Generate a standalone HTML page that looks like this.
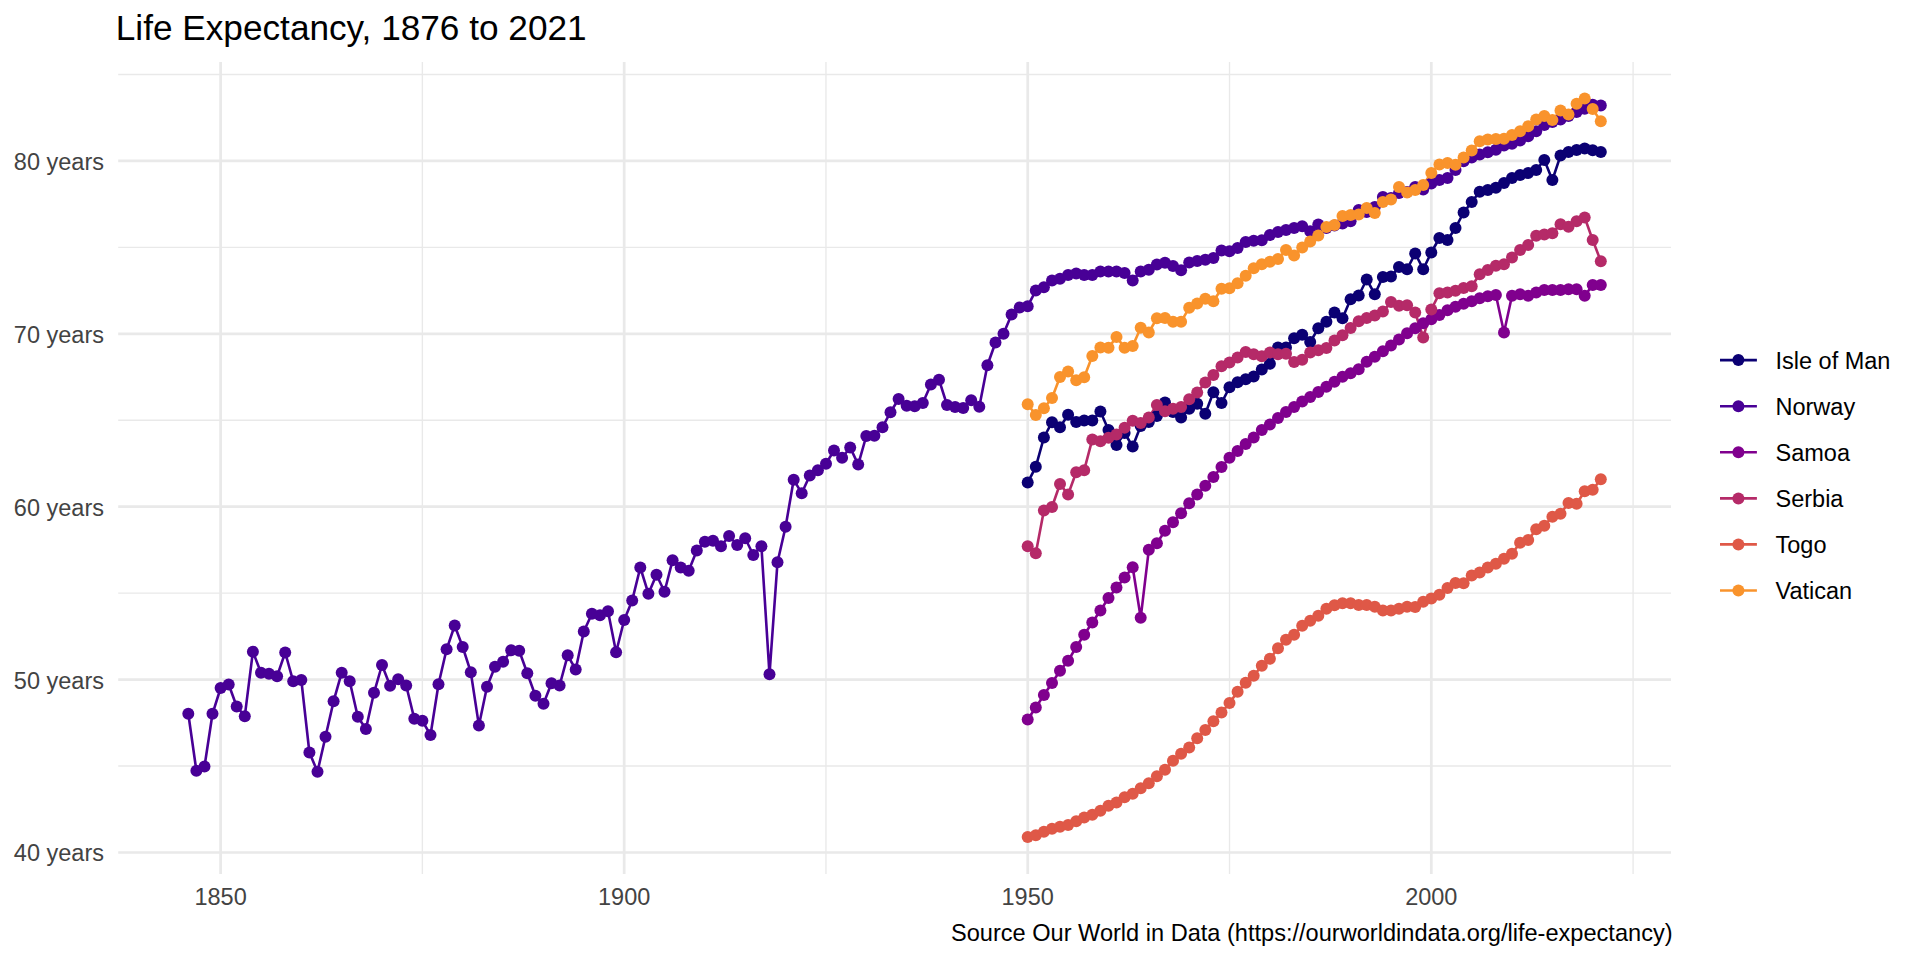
<!DOCTYPE html>
<html lang="en"><head><meta charset="utf-8"><title>Life Expectancy, 1876 to 2021</title>
<style>html,body{margin:0;padding:0;background:#fff}body{width:1920px;height:960px;overflow:hidden}svg{display:block}text{font-family:"Liberation Sans",Arial,Helvetica,sans-serif}.ax{font-size:23.5px;fill:#434343}.lg{font-size:23.5px;fill:#000}.ti{font-size:35.2px;fill:#000}.ca{font-size:23.58px;fill:#000}</style></head><body>
<svg width="1920" height="960" viewBox="0 0 1920 960">
<rect width="1920" height="960" fill="#fff"/>
<g stroke="#e9e9e9" fill="none">
<g stroke-width="1.36">
<line x1="118.2" x2="1671" y1="766.05" y2="766.05"/>
<line x1="118.2" x2="1671" y1="593.15" y2="593.15"/>
<line x1="118.2" x2="1671" y1="420.25" y2="420.25"/>
<line x1="118.2" x2="1671" y1="247.35" y2="247.35"/>
<line x1="118.2" x2="1671" y1="74.45" y2="74.45"/>
<line x1="422.38" x2="422.38" y1="62.1" y2="874"/>
<line x1="825.96" x2="825.96" y1="62.1" y2="874"/>
<line x1="1229.53" x2="1229.53" y1="62.1" y2="874"/>
<line x1="1633.10" x2="1633.10" y1="62.1" y2="874"/>
</g><g stroke-width="2.72">
<line x1="118.2" x2="1671" y1="852.50" y2="852.50"/>
<line x1="118.2" x2="1671" y1="679.60" y2="679.60"/>
<line x1="118.2" x2="1671" y1="506.70" y2="506.70"/>
<line x1="118.2" x2="1671" y1="333.80" y2="333.80"/>
<line x1="118.2" x2="1671" y1="160.90" y2="160.90"/>
<line x1="220.60" x2="220.60" y1="62.1" y2="874"/>
<line x1="624.17" x2="624.17" y1="62.1" y2="874"/>
<line x1="1027.74" x2="1027.74" y1="62.1" y2="874"/>
<line x1="1431.31" x2="1431.31" y1="62.1" y2="874"/>
</g></g>
<g fill="none" stroke-width="2.6" stroke-linejoin="round" stroke-linecap="butt">
<polyline stroke="#0B0073" points="1027.7,482.6 1035.8,466.8 1043.9,437.5 1052.0,422.2 1060.0,427.2 1068.1,414.7 1076.2,422.0 1084.2,420.5 1092.3,420.4 1100.4,411.5 1108.5,430.0 1116.5,444.9 1124.6,433.0 1132.7,446.5 1140.7,426.0 1148.8,422.0 1156.9,416.0 1165.0,402.5 1173.0,412.0 1181.1,417.5 1189.2,408.8 1197.2,403.8 1205.3,413.8 1213.4,392.3 1221.5,403.0 1229.5,387.3 1237.6,382.2 1245.7,379.3 1253.7,376.6 1261.8,369.6 1269.9,363.8 1278.0,347.5 1286.0,347.5 1294.1,338.3 1302.2,334.7 1310.2,342.0 1318.3,328.3 1326.4,321.7 1334.5,312.5 1342.5,318.3 1350.6,299.2 1358.7,295.5 1366.7,279.5 1374.8,294.2 1382.9,276.9 1391.0,276.6 1399.0,267.1 1407.1,269.2 1415.2,253.5 1423.2,269.2 1431.3,252.5 1439.4,238.0 1447.5,240.0 1455.5,228.0 1463.6,212.5 1471.7,202.0 1479.7,191.8 1487.8,189.9 1495.9,187.8 1504.0,183.1 1512.0,178.1 1520.1,175.0 1528.2,173.1 1536.2,170.0 1544.3,160.0 1552.4,180.0 1560.5,155.6 1568.5,151.9 1576.6,150.0 1584.7,148.5 1592.7,150.2 1600.8,152.1"/>
<polyline stroke="#480096" points="188.3,713.8 196.4,770.8 204.5,766.5 212.5,713.8 220.6,688.0 228.7,684.5 236.7,706.5 244.8,716.2 252.9,651.7 261.0,672.7 269.0,673.7 277.1,676.2 285.2,652.5 293.2,681.3 301.3,680.0 309.4,752.5 317.5,771.7 325.5,736.7 333.6,701.2 341.7,672.7 349.7,681.3 357.8,716.8 365.9,729.0 374.0,692.8 382.0,665.0 390.1,685.7 398.2,679.2 406.2,685.5 414.3,718.7 422.4,720.8 430.5,735.0 438.5,684.2 446.6,649.3 454.7,625.5 462.7,647.0 470.8,672.2 478.9,725.4 487.0,686.7 495.0,666.7 503.1,661.7 511.2,650.3 519.2,650.8 527.3,673.3 535.4,695.8 543.5,703.7 551.5,683.3 559.6,685.5 567.7,655.3 575.7,669.5 583.8,631.5 591.9,613.8 600.0,615.3 608.0,611.3 616.1,652.3 624.2,620.0 632.2,600.4 640.3,567.5 648.4,593.7 656.5,574.7 664.5,591.7 672.6,560.3 680.7,567.5 688.7,570.8 696.8,550.5 704.9,541.7 713.0,540.8 721.0,546.2 729.1,536.0 737.2,545.0 745.2,538.3 753.3,555.0 761.4,546.2 769.5,674.3 777.5,562.2 785.6,526.7 793.7,479.7 801.7,493.3 809.8,475.5 817.9,470.3 826.0,463.7 834.0,450.5 842.1,457.8 850.2,447.5 858.2,464.6 866.3,436.0 874.4,435.7 882.5,427.2 890.5,412.2 898.6,399.0 906.7,405.8 914.7,406.3 922.8,403.0 930.9,384.5 939.0,379.7 947.0,405.0 955.1,407.0 963.2,408.0 971.2,400.3 979.3,406.7 987.4,365.2 995.5,342.5 1003.5,333.8 1011.6,314.4 1019.7,307.5 1027.7,306.2 1035.8,290.6 1043.9,287.2 1052.0,280.4 1060.0,278.8 1068.1,275.0 1076.2,273.5 1084.2,275.0 1092.3,275.0 1100.4,271.6 1108.5,271.6 1116.5,271.6 1124.6,273.0 1132.7,280.4 1140.7,271.4 1148.8,269.8 1156.9,264.5 1165.0,262.7 1173.0,266.0 1181.1,270.2 1189.2,262.6 1197.2,261.1 1205.3,259.7 1213.4,258.0 1221.5,250.5 1229.5,251.3 1237.6,248.0 1245.7,242.0 1253.7,240.8 1261.8,240.2 1269.9,235.0 1278.0,231.9 1286.0,230.0 1294.1,228.1 1302.2,226.2 1310.2,231.2 1318.3,224.4 1326.4,228.0 1334.5,225.5 1342.5,223.5 1350.6,221.2 1358.7,210.0 1366.7,211.9 1374.8,206.9 1382.9,196.9 1391.0,198.0 1399.0,193.0 1407.1,192.0 1415.2,186.9 1423.2,189.4 1431.3,183.4 1439.4,180.0 1447.5,178.0 1455.5,170.0 1463.6,161.2 1471.7,157.5 1479.7,154.4 1487.8,152.2 1495.9,149.7 1504.0,145.6 1512.0,143.8 1520.1,140.6 1528.2,136.2 1536.2,131.2 1544.3,125.0 1552.4,122.0 1560.5,119.4 1568.5,116.0 1576.6,111.9 1584.7,108.8 1592.7,104.8 1600.8,105.6"/>
<polyline stroke="#80008E" points="1027.7,719.5 1035.8,707.5 1043.9,695.0 1052.0,683.0 1060.0,670.8 1068.1,660.8 1076.2,647.0 1084.2,634.7 1092.3,622.5 1100.4,610.5 1108.5,598.0 1116.5,587.6 1124.6,577.5 1132.7,567.3 1140.7,617.8 1148.8,549.8 1156.9,543.2 1165.0,530.8 1173.0,522.2 1181.1,513.3 1189.2,503.3 1197.2,494.5 1205.3,485.8 1213.4,477.0 1221.5,467.0 1229.5,457.8 1237.6,451.0 1245.7,444.0 1253.7,437.4 1261.8,430.0 1269.9,424.4 1278.0,418.1 1286.0,411.9 1294.1,406.9 1302.2,401.5 1310.2,397.1 1318.3,392.1 1326.4,386.7 1334.5,381.7 1342.5,376.7 1350.6,373.3 1358.7,369.2 1366.7,361.7 1374.8,356.7 1382.9,351.2 1391.0,345.4 1399.0,339.6 1407.1,333.3 1415.2,328.3 1423.2,323.3 1431.3,319.2 1439.4,315.0 1447.5,310.3 1455.5,306.7 1463.6,303.7 1471.7,301.2 1479.7,298.3 1487.8,296.2 1495.9,295.0 1504.0,332.5 1512.0,295.8 1520.1,294.2 1528.2,295.8 1536.2,292.5 1544.3,290.0 1552.4,290.0 1560.5,290.0 1568.5,289.2 1576.6,289.2 1584.7,295.8 1592.7,285.0 1600.8,285.0"/>
<polyline stroke="#B52A68" points="1027.7,546.3 1035.8,553.3 1043.9,510.5 1052.0,507.0 1060.0,484.0 1068.1,494.5 1076.2,472.2 1084.2,470.2 1092.3,439.4 1100.4,441.2 1108.5,437.8 1116.5,434.5 1124.6,427.8 1132.7,420.7 1140.7,423.1 1148.8,417.5 1156.9,405.0 1165.0,411.2 1173.0,408.8 1181.1,406.9 1189.2,399.2 1197.2,392.5 1205.3,382.5 1213.4,375.0 1221.5,366.3 1229.5,362.5 1237.6,357.5 1245.7,352.0 1253.7,354.2 1261.8,356.2 1269.9,352.5 1278.0,354.2 1286.0,353.8 1294.1,362.0 1302.2,359.7 1310.2,352.5 1318.3,350.3 1326.4,348.0 1334.5,340.5 1342.5,335.3 1350.6,328.0 1358.7,321.3 1366.7,318.0 1374.8,315.5 1382.9,311.6 1391.0,302.0 1399.0,305.8 1407.1,305.3 1415.2,312.5 1423.2,337.5 1431.3,309.5 1439.4,293.3 1447.5,292.5 1455.5,290.8 1463.6,288.0 1471.7,286.3 1479.7,274.2 1487.8,270.0 1495.9,265.8 1504.0,264.2 1512.0,257.5 1520.1,250.0 1528.2,245.0 1536.2,235.8 1544.3,234.5 1552.4,233.3 1560.5,224.2 1568.5,226.7 1576.6,221.3 1584.7,217.5 1592.7,240.0 1600.8,261.2"/>
<polyline stroke="#DF5847" points="1027.7,837.0 1035.8,835.3 1043.9,831.7 1052.0,828.7 1060.0,826.7 1068.1,825.0 1076.2,821.3 1084.2,817.5 1092.3,814.7 1100.4,810.8 1108.5,805.8 1116.5,802.5 1124.6,797.2 1132.7,793.8 1140.7,788.3 1148.8,783.3 1156.9,776.3 1165.0,769.7 1173.0,760.8 1181.1,753.8 1189.2,747.5 1197.2,738.3 1205.3,730.0 1213.4,721.2 1221.5,712.5 1229.5,703.0 1237.6,691.8 1245.7,682.8 1253.7,675.8 1261.8,665.8 1269.9,658.8 1278.0,648.3 1286.0,639.7 1294.1,634.7 1302.2,625.8 1310.2,620.8 1318.3,615.8 1326.4,608.8 1334.5,605.3 1342.5,603.3 1350.6,603.3 1358.7,605.0 1366.7,605.0 1374.8,606.7 1382.9,610.5 1391.0,610.5 1399.0,608.8 1407.1,606.8 1415.2,607.0 1423.2,601.8 1431.3,598.5 1439.4,594.8 1447.5,588.0 1455.5,583.0 1463.6,583.3 1471.7,575.5 1479.7,572.5 1487.8,567.5 1495.9,563.7 1504.0,558.7 1512.0,553.7 1520.1,542.8 1528.2,540.0 1536.2,529.2 1544.3,525.8 1552.4,516.7 1560.5,513.7 1568.5,503.0 1576.6,503.8 1584.7,491.2 1592.7,489.7 1600.8,479.2"/>
<polyline stroke="#F9932C" points="1027.7,404.2 1035.8,415.0 1043.9,408.3 1052.0,398.0 1060.0,377.0 1068.1,371.4 1076.2,380.3 1084.2,377.3 1092.3,356.0 1100.4,347.4 1108.5,347.8 1116.5,336.9 1124.6,347.7 1132.7,346.0 1140.7,327.8 1148.8,332.5 1156.9,318.2 1165.0,318.0 1173.0,321.8 1181.1,321.8 1189.2,307.7 1197.2,303.5 1205.3,298.7 1213.4,301.3 1221.5,288.8 1229.5,288.3 1237.6,283.3 1245.7,275.8 1253.7,268.3 1261.8,264.2 1269.9,261.7 1278.0,259.0 1286.0,250.0 1294.1,255.4 1302.2,247.6 1310.2,241.5 1318.3,235.6 1326.4,226.9 1334.5,225.0 1342.5,216.0 1350.6,215.0 1358.7,214.4 1366.7,208.1 1374.8,213.1 1382.9,202.1 1391.0,199.4 1399.0,186.9 1407.1,192.5 1415.2,190.0 1423.2,185.1 1431.3,173.1 1439.4,164.4 1447.5,163.1 1455.5,164.7 1463.6,157.5 1471.7,150.6 1479.7,141.2 1487.8,139.5 1495.9,139.0 1504.0,138.8 1512.0,135.0 1520.1,131.2 1528.2,126.2 1536.2,119.4 1544.3,116.0 1552.4,120.0 1560.5,110.6 1568.5,114.4 1576.6,103.8 1584.7,98.5 1592.7,109.1 1600.8,121.2"/>
</g>
<g fill="#0B0073">
<circle cx="1027.7" cy="482.6" r="6.0"/><circle cx="1035.8" cy="466.8" r="6.0"/><circle cx="1043.9" cy="437.5" r="6.0"/><circle cx="1052.0" cy="422.2" r="6.0"/><circle cx="1060.0" cy="427.2" r="6.0"/><circle cx="1068.1" cy="414.7" r="6.0"/><circle cx="1076.2" cy="422.0" r="6.0"/><circle cx="1084.2" cy="420.5" r="6.0"/><circle cx="1092.3" cy="420.4" r="6.0"/><circle cx="1100.4" cy="411.5" r="6.0"/><circle cx="1108.5" cy="430.0" r="6.0"/><circle cx="1116.5" cy="444.9" r="6.0"/><circle cx="1124.6" cy="433.0" r="6.0"/><circle cx="1132.7" cy="446.5" r="6.0"/><circle cx="1140.7" cy="426.0" r="6.0"/><circle cx="1148.8" cy="422.0" r="6.0"/><circle cx="1156.9" cy="416.0" r="6.0"/><circle cx="1165.0" cy="402.5" r="6.0"/><circle cx="1173.0" cy="412.0" r="6.0"/><circle cx="1181.1" cy="417.5" r="6.0"/><circle cx="1189.2" cy="408.8" r="6.0"/><circle cx="1197.2" cy="403.8" r="6.0"/><circle cx="1205.3" cy="413.8" r="6.0"/><circle cx="1213.4" cy="392.3" r="6.0"/><circle cx="1221.5" cy="403.0" r="6.0"/><circle cx="1229.5" cy="387.3" r="6.0"/><circle cx="1237.6" cy="382.2" r="6.0"/><circle cx="1245.7" cy="379.3" r="6.0"/><circle cx="1253.7" cy="376.6" r="6.0"/><circle cx="1261.8" cy="369.6" r="6.0"/><circle cx="1269.9" cy="363.8" r="6.0"/><circle cx="1278.0" cy="347.5" r="6.0"/><circle cx="1286.0" cy="347.5" r="6.0"/><circle cx="1294.1" cy="338.3" r="6.0"/><circle cx="1302.2" cy="334.7" r="6.0"/><circle cx="1310.2" cy="342.0" r="6.0"/><circle cx="1318.3" cy="328.3" r="6.0"/><circle cx="1326.4" cy="321.7" r="6.0"/><circle cx="1334.5" cy="312.5" r="6.0"/><circle cx="1342.5" cy="318.3" r="6.0"/><circle cx="1350.6" cy="299.2" r="6.0"/><circle cx="1358.7" cy="295.5" r="6.0"/><circle cx="1366.7" cy="279.5" r="6.0"/><circle cx="1374.8" cy="294.2" r="6.0"/><circle cx="1382.9" cy="276.9" r="6.0"/><circle cx="1391.0" cy="276.6" r="6.0"/><circle cx="1399.0" cy="267.1" r="6.0"/><circle cx="1407.1" cy="269.2" r="6.0"/><circle cx="1415.2" cy="253.5" r="6.0"/><circle cx="1423.2" cy="269.2" r="6.0"/><circle cx="1431.3" cy="252.5" r="6.0"/><circle cx="1439.4" cy="238.0" r="6.0"/><circle cx="1447.5" cy="240.0" r="6.0"/><circle cx="1455.5" cy="228.0" r="6.0"/><circle cx="1463.6" cy="212.5" r="6.0"/><circle cx="1471.7" cy="202.0" r="6.0"/><circle cx="1479.7" cy="191.8" r="6.0"/><circle cx="1487.8" cy="189.9" r="6.0"/><circle cx="1495.9" cy="187.8" r="6.0"/><circle cx="1504.0" cy="183.1" r="6.0"/><circle cx="1512.0" cy="178.1" r="6.0"/><circle cx="1520.1" cy="175.0" r="6.0"/><circle cx="1528.2" cy="173.1" r="6.0"/><circle cx="1536.2" cy="170.0" r="6.0"/><circle cx="1544.3" cy="160.0" r="6.0"/><circle cx="1552.4" cy="180.0" r="6.0"/><circle cx="1560.5" cy="155.6" r="6.0"/><circle cx="1568.5" cy="151.9" r="6.0"/><circle cx="1576.6" cy="150.0" r="6.0"/><circle cx="1584.7" cy="148.5" r="6.0"/><circle cx="1592.7" cy="150.2" r="6.0"/><circle cx="1600.8" cy="152.1" r="6.0"/>
</g>
<g fill="#480096">
<circle cx="188.3" cy="713.8" r="6.0"/><circle cx="196.4" cy="770.8" r="6.0"/><circle cx="204.5" cy="766.5" r="6.0"/><circle cx="212.5" cy="713.8" r="6.0"/><circle cx="220.6" cy="688.0" r="6.0"/><circle cx="228.7" cy="684.5" r="6.0"/><circle cx="236.7" cy="706.5" r="6.0"/><circle cx="244.8" cy="716.2" r="6.0"/><circle cx="252.9" cy="651.7" r="6.0"/><circle cx="261.0" cy="672.7" r="6.0"/><circle cx="269.0" cy="673.7" r="6.0"/><circle cx="277.1" cy="676.2" r="6.0"/><circle cx="285.2" cy="652.5" r="6.0"/><circle cx="293.2" cy="681.3" r="6.0"/><circle cx="301.3" cy="680.0" r="6.0"/><circle cx="309.4" cy="752.5" r="6.0"/><circle cx="317.5" cy="771.7" r="6.0"/><circle cx="325.5" cy="736.7" r="6.0"/><circle cx="333.6" cy="701.2" r="6.0"/><circle cx="341.7" cy="672.7" r="6.0"/><circle cx="349.7" cy="681.3" r="6.0"/><circle cx="357.8" cy="716.8" r="6.0"/><circle cx="365.9" cy="729.0" r="6.0"/><circle cx="374.0" cy="692.8" r="6.0"/><circle cx="382.0" cy="665.0" r="6.0"/><circle cx="390.1" cy="685.7" r="6.0"/><circle cx="398.2" cy="679.2" r="6.0"/><circle cx="406.2" cy="685.5" r="6.0"/><circle cx="414.3" cy="718.7" r="6.0"/><circle cx="422.4" cy="720.8" r="6.0"/><circle cx="430.5" cy="735.0" r="6.0"/><circle cx="438.5" cy="684.2" r="6.0"/><circle cx="446.6" cy="649.3" r="6.0"/><circle cx="454.7" cy="625.5" r="6.0"/><circle cx="462.7" cy="647.0" r="6.0"/><circle cx="470.8" cy="672.2" r="6.0"/><circle cx="478.9" cy="725.4" r="6.0"/><circle cx="487.0" cy="686.7" r="6.0"/><circle cx="495.0" cy="666.7" r="6.0"/><circle cx="503.1" cy="661.7" r="6.0"/><circle cx="511.2" cy="650.3" r="6.0"/><circle cx="519.2" cy="650.8" r="6.0"/><circle cx="527.3" cy="673.3" r="6.0"/><circle cx="535.4" cy="695.8" r="6.0"/><circle cx="543.5" cy="703.7" r="6.0"/><circle cx="551.5" cy="683.3" r="6.0"/><circle cx="559.6" cy="685.5" r="6.0"/><circle cx="567.7" cy="655.3" r="6.0"/><circle cx="575.7" cy="669.5" r="6.0"/><circle cx="583.8" cy="631.5" r="6.0"/><circle cx="591.9" cy="613.8" r="6.0"/><circle cx="600.0" cy="615.3" r="6.0"/><circle cx="608.0" cy="611.3" r="6.0"/><circle cx="616.1" cy="652.3" r="6.0"/><circle cx="624.2" cy="620.0" r="6.0"/><circle cx="632.2" cy="600.4" r="6.0"/><circle cx="640.3" cy="567.5" r="6.0"/><circle cx="648.4" cy="593.7" r="6.0"/><circle cx="656.5" cy="574.7" r="6.0"/><circle cx="664.5" cy="591.7" r="6.0"/><circle cx="672.6" cy="560.3" r="6.0"/><circle cx="680.7" cy="567.5" r="6.0"/><circle cx="688.7" cy="570.8" r="6.0"/><circle cx="696.8" cy="550.5" r="6.0"/><circle cx="704.9" cy="541.7" r="6.0"/><circle cx="713.0" cy="540.8" r="6.0"/><circle cx="721.0" cy="546.2" r="6.0"/><circle cx="729.1" cy="536.0" r="6.0"/><circle cx="737.2" cy="545.0" r="6.0"/><circle cx="745.2" cy="538.3" r="6.0"/><circle cx="753.3" cy="555.0" r="6.0"/><circle cx="761.4" cy="546.2" r="6.0"/><circle cx="769.5" cy="674.3" r="6.0"/><circle cx="777.5" cy="562.2" r="6.0"/><circle cx="785.6" cy="526.7" r="6.0"/><circle cx="793.7" cy="479.7" r="6.0"/><circle cx="801.7" cy="493.3" r="6.0"/><circle cx="809.8" cy="475.5" r="6.0"/><circle cx="817.9" cy="470.3" r="6.0"/><circle cx="826.0" cy="463.7" r="6.0"/><circle cx="834.0" cy="450.5" r="6.0"/><circle cx="842.1" cy="457.8" r="6.0"/><circle cx="850.2" cy="447.5" r="6.0"/><circle cx="858.2" cy="464.6" r="6.0"/><circle cx="866.3" cy="436.0" r="6.0"/><circle cx="874.4" cy="435.7" r="6.0"/><circle cx="882.5" cy="427.2" r="6.0"/><circle cx="890.5" cy="412.2" r="6.0"/><circle cx="898.6" cy="399.0" r="6.0"/><circle cx="906.7" cy="405.8" r="6.0"/><circle cx="914.7" cy="406.3" r="6.0"/><circle cx="922.8" cy="403.0" r="6.0"/><circle cx="930.9" cy="384.5" r="6.0"/><circle cx="939.0" cy="379.7" r="6.0"/><circle cx="947.0" cy="405.0" r="6.0"/><circle cx="955.1" cy="407.0" r="6.0"/><circle cx="963.2" cy="408.0" r="6.0"/><circle cx="971.2" cy="400.3" r="6.0"/><circle cx="979.3" cy="406.7" r="6.0"/><circle cx="987.4" cy="365.2" r="6.0"/><circle cx="995.5" cy="342.5" r="6.0"/><circle cx="1003.5" cy="333.8" r="6.0"/><circle cx="1011.6" cy="314.4" r="6.0"/><circle cx="1019.7" cy="307.5" r="6.0"/><circle cx="1027.7" cy="306.2" r="6.0"/><circle cx="1035.8" cy="290.6" r="6.0"/><circle cx="1043.9" cy="287.2" r="6.0"/><circle cx="1052.0" cy="280.4" r="6.0"/><circle cx="1060.0" cy="278.8" r="6.0"/><circle cx="1068.1" cy="275.0" r="6.0"/><circle cx="1076.2" cy="273.5" r="6.0"/><circle cx="1084.2" cy="275.0" r="6.0"/><circle cx="1092.3" cy="275.0" r="6.0"/><circle cx="1100.4" cy="271.6" r="6.0"/><circle cx="1108.5" cy="271.6" r="6.0"/><circle cx="1116.5" cy="271.6" r="6.0"/><circle cx="1124.6" cy="273.0" r="6.0"/><circle cx="1132.7" cy="280.4" r="6.0"/><circle cx="1140.7" cy="271.4" r="6.0"/><circle cx="1148.8" cy="269.8" r="6.0"/><circle cx="1156.9" cy="264.5" r="6.0"/><circle cx="1165.0" cy="262.7" r="6.0"/><circle cx="1173.0" cy="266.0" r="6.0"/><circle cx="1181.1" cy="270.2" r="6.0"/><circle cx="1189.2" cy="262.6" r="6.0"/><circle cx="1197.2" cy="261.1" r="6.0"/><circle cx="1205.3" cy="259.7" r="6.0"/><circle cx="1213.4" cy="258.0" r="6.0"/><circle cx="1221.5" cy="250.5" r="6.0"/><circle cx="1229.5" cy="251.3" r="6.0"/><circle cx="1237.6" cy="248.0" r="6.0"/><circle cx="1245.7" cy="242.0" r="6.0"/><circle cx="1253.7" cy="240.8" r="6.0"/><circle cx="1261.8" cy="240.2" r="6.0"/><circle cx="1269.9" cy="235.0" r="6.0"/><circle cx="1278.0" cy="231.9" r="6.0"/><circle cx="1286.0" cy="230.0" r="6.0"/><circle cx="1294.1" cy="228.1" r="6.0"/><circle cx="1302.2" cy="226.2" r="6.0"/><circle cx="1310.2" cy="231.2" r="6.0"/><circle cx="1318.3" cy="224.4" r="6.0"/><circle cx="1326.4" cy="228.0" r="6.0"/><circle cx="1334.5" cy="225.5" r="6.0"/><circle cx="1342.5" cy="223.5" r="6.0"/><circle cx="1350.6" cy="221.2" r="6.0"/><circle cx="1358.7" cy="210.0" r="6.0"/><circle cx="1366.7" cy="211.9" r="6.0"/><circle cx="1374.8" cy="206.9" r="6.0"/><circle cx="1382.9" cy="196.9" r="6.0"/><circle cx="1391.0" cy="198.0" r="6.0"/><circle cx="1399.0" cy="193.0" r="6.0"/><circle cx="1407.1" cy="192.0" r="6.0"/><circle cx="1415.2" cy="186.9" r="6.0"/><circle cx="1423.2" cy="189.4" r="6.0"/><circle cx="1431.3" cy="183.4" r="6.0"/><circle cx="1439.4" cy="180.0" r="6.0"/><circle cx="1447.5" cy="178.0" r="6.0"/><circle cx="1455.5" cy="170.0" r="6.0"/><circle cx="1463.6" cy="161.2" r="6.0"/><circle cx="1471.7" cy="157.5" r="6.0"/><circle cx="1479.7" cy="154.4" r="6.0"/><circle cx="1487.8" cy="152.2" r="6.0"/><circle cx="1495.9" cy="149.7" r="6.0"/><circle cx="1504.0" cy="145.6" r="6.0"/><circle cx="1512.0" cy="143.8" r="6.0"/><circle cx="1520.1" cy="140.6" r="6.0"/><circle cx="1528.2" cy="136.2" r="6.0"/><circle cx="1536.2" cy="131.2" r="6.0"/><circle cx="1544.3" cy="125.0" r="6.0"/><circle cx="1552.4" cy="122.0" r="6.0"/><circle cx="1560.5" cy="119.4" r="6.0"/><circle cx="1568.5" cy="116.0" r="6.0"/><circle cx="1576.6" cy="111.9" r="6.0"/><circle cx="1584.7" cy="108.8" r="6.0"/><circle cx="1592.7" cy="104.8" r="6.0"/><circle cx="1600.8" cy="105.6" r="6.0"/>
</g>
<g fill="#80008E">
<circle cx="1027.7" cy="719.5" r="6.0"/><circle cx="1035.8" cy="707.5" r="6.0"/><circle cx="1043.9" cy="695.0" r="6.0"/><circle cx="1052.0" cy="683.0" r="6.0"/><circle cx="1060.0" cy="670.8" r="6.0"/><circle cx="1068.1" cy="660.8" r="6.0"/><circle cx="1076.2" cy="647.0" r="6.0"/><circle cx="1084.2" cy="634.7" r="6.0"/><circle cx="1092.3" cy="622.5" r="6.0"/><circle cx="1100.4" cy="610.5" r="6.0"/><circle cx="1108.5" cy="598.0" r="6.0"/><circle cx="1116.5" cy="587.6" r="6.0"/><circle cx="1124.6" cy="577.5" r="6.0"/><circle cx="1132.7" cy="567.3" r="6.0"/><circle cx="1140.7" cy="617.8" r="6.0"/><circle cx="1148.8" cy="549.8" r="6.0"/><circle cx="1156.9" cy="543.2" r="6.0"/><circle cx="1165.0" cy="530.8" r="6.0"/><circle cx="1173.0" cy="522.2" r="6.0"/><circle cx="1181.1" cy="513.3" r="6.0"/><circle cx="1189.2" cy="503.3" r="6.0"/><circle cx="1197.2" cy="494.5" r="6.0"/><circle cx="1205.3" cy="485.8" r="6.0"/><circle cx="1213.4" cy="477.0" r="6.0"/><circle cx="1221.5" cy="467.0" r="6.0"/><circle cx="1229.5" cy="457.8" r="6.0"/><circle cx="1237.6" cy="451.0" r="6.0"/><circle cx="1245.7" cy="444.0" r="6.0"/><circle cx="1253.7" cy="437.4" r="6.0"/><circle cx="1261.8" cy="430.0" r="6.0"/><circle cx="1269.9" cy="424.4" r="6.0"/><circle cx="1278.0" cy="418.1" r="6.0"/><circle cx="1286.0" cy="411.9" r="6.0"/><circle cx="1294.1" cy="406.9" r="6.0"/><circle cx="1302.2" cy="401.5" r="6.0"/><circle cx="1310.2" cy="397.1" r="6.0"/><circle cx="1318.3" cy="392.1" r="6.0"/><circle cx="1326.4" cy="386.7" r="6.0"/><circle cx="1334.5" cy="381.7" r="6.0"/><circle cx="1342.5" cy="376.7" r="6.0"/><circle cx="1350.6" cy="373.3" r="6.0"/><circle cx="1358.7" cy="369.2" r="6.0"/><circle cx="1366.7" cy="361.7" r="6.0"/><circle cx="1374.8" cy="356.7" r="6.0"/><circle cx="1382.9" cy="351.2" r="6.0"/><circle cx="1391.0" cy="345.4" r="6.0"/><circle cx="1399.0" cy="339.6" r="6.0"/><circle cx="1407.1" cy="333.3" r="6.0"/><circle cx="1415.2" cy="328.3" r="6.0"/><circle cx="1423.2" cy="323.3" r="6.0"/><circle cx="1431.3" cy="319.2" r="6.0"/><circle cx="1439.4" cy="315.0" r="6.0"/><circle cx="1447.5" cy="310.3" r="6.0"/><circle cx="1455.5" cy="306.7" r="6.0"/><circle cx="1463.6" cy="303.7" r="6.0"/><circle cx="1471.7" cy="301.2" r="6.0"/><circle cx="1479.7" cy="298.3" r="6.0"/><circle cx="1487.8" cy="296.2" r="6.0"/><circle cx="1495.9" cy="295.0" r="6.0"/><circle cx="1504.0" cy="332.5" r="6.0"/><circle cx="1512.0" cy="295.8" r="6.0"/><circle cx="1520.1" cy="294.2" r="6.0"/><circle cx="1528.2" cy="295.8" r="6.0"/><circle cx="1536.2" cy="292.5" r="6.0"/><circle cx="1544.3" cy="290.0" r="6.0"/><circle cx="1552.4" cy="290.0" r="6.0"/><circle cx="1560.5" cy="290.0" r="6.0"/><circle cx="1568.5" cy="289.2" r="6.0"/><circle cx="1576.6" cy="289.2" r="6.0"/><circle cx="1584.7" cy="295.8" r="6.0"/><circle cx="1592.7" cy="285.0" r="6.0"/><circle cx="1600.8" cy="285.0" r="6.0"/>
</g>
<g fill="#B52A68">
<circle cx="1027.7" cy="546.3" r="6.0"/><circle cx="1035.8" cy="553.3" r="6.0"/><circle cx="1043.9" cy="510.5" r="6.0"/><circle cx="1052.0" cy="507.0" r="6.0"/><circle cx="1060.0" cy="484.0" r="6.0"/><circle cx="1068.1" cy="494.5" r="6.0"/><circle cx="1076.2" cy="472.2" r="6.0"/><circle cx="1084.2" cy="470.2" r="6.0"/><circle cx="1092.3" cy="439.4" r="6.0"/><circle cx="1100.4" cy="441.2" r="6.0"/><circle cx="1108.5" cy="437.8" r="6.0"/><circle cx="1116.5" cy="434.5" r="6.0"/><circle cx="1124.6" cy="427.8" r="6.0"/><circle cx="1132.7" cy="420.7" r="6.0"/><circle cx="1140.7" cy="423.1" r="6.0"/><circle cx="1148.8" cy="417.5" r="6.0"/><circle cx="1156.9" cy="405.0" r="6.0"/><circle cx="1165.0" cy="411.2" r="6.0"/><circle cx="1173.0" cy="408.8" r="6.0"/><circle cx="1181.1" cy="406.9" r="6.0"/><circle cx="1189.2" cy="399.2" r="6.0"/><circle cx="1197.2" cy="392.5" r="6.0"/><circle cx="1205.3" cy="382.5" r="6.0"/><circle cx="1213.4" cy="375.0" r="6.0"/><circle cx="1221.5" cy="366.3" r="6.0"/><circle cx="1229.5" cy="362.5" r="6.0"/><circle cx="1237.6" cy="357.5" r="6.0"/><circle cx="1245.7" cy="352.0" r="6.0"/><circle cx="1253.7" cy="354.2" r="6.0"/><circle cx="1261.8" cy="356.2" r="6.0"/><circle cx="1269.9" cy="352.5" r="6.0"/><circle cx="1278.0" cy="354.2" r="6.0"/><circle cx="1286.0" cy="353.8" r="6.0"/><circle cx="1294.1" cy="362.0" r="6.0"/><circle cx="1302.2" cy="359.7" r="6.0"/><circle cx="1310.2" cy="352.5" r="6.0"/><circle cx="1318.3" cy="350.3" r="6.0"/><circle cx="1326.4" cy="348.0" r="6.0"/><circle cx="1334.5" cy="340.5" r="6.0"/><circle cx="1342.5" cy="335.3" r="6.0"/><circle cx="1350.6" cy="328.0" r="6.0"/><circle cx="1358.7" cy="321.3" r="6.0"/><circle cx="1366.7" cy="318.0" r="6.0"/><circle cx="1374.8" cy="315.5" r="6.0"/><circle cx="1382.9" cy="311.6" r="6.0"/><circle cx="1391.0" cy="302.0" r="6.0"/><circle cx="1399.0" cy="305.8" r="6.0"/><circle cx="1407.1" cy="305.3" r="6.0"/><circle cx="1415.2" cy="312.5" r="6.0"/><circle cx="1423.2" cy="337.5" r="6.0"/><circle cx="1431.3" cy="309.5" r="6.0"/><circle cx="1439.4" cy="293.3" r="6.0"/><circle cx="1447.5" cy="292.5" r="6.0"/><circle cx="1455.5" cy="290.8" r="6.0"/><circle cx="1463.6" cy="288.0" r="6.0"/><circle cx="1471.7" cy="286.3" r="6.0"/><circle cx="1479.7" cy="274.2" r="6.0"/><circle cx="1487.8" cy="270.0" r="6.0"/><circle cx="1495.9" cy="265.8" r="6.0"/><circle cx="1504.0" cy="264.2" r="6.0"/><circle cx="1512.0" cy="257.5" r="6.0"/><circle cx="1520.1" cy="250.0" r="6.0"/><circle cx="1528.2" cy="245.0" r="6.0"/><circle cx="1536.2" cy="235.8" r="6.0"/><circle cx="1544.3" cy="234.5" r="6.0"/><circle cx="1552.4" cy="233.3" r="6.0"/><circle cx="1560.5" cy="224.2" r="6.0"/><circle cx="1568.5" cy="226.7" r="6.0"/><circle cx="1576.6" cy="221.3" r="6.0"/><circle cx="1584.7" cy="217.5" r="6.0"/><circle cx="1592.7" cy="240.0" r="6.0"/><circle cx="1600.8" cy="261.2" r="6.0"/>
</g>
<g fill="#DF5847">
<circle cx="1027.7" cy="837.0" r="6.0"/><circle cx="1035.8" cy="835.3" r="6.0"/><circle cx="1043.9" cy="831.7" r="6.0"/><circle cx="1052.0" cy="828.7" r="6.0"/><circle cx="1060.0" cy="826.7" r="6.0"/><circle cx="1068.1" cy="825.0" r="6.0"/><circle cx="1076.2" cy="821.3" r="6.0"/><circle cx="1084.2" cy="817.5" r="6.0"/><circle cx="1092.3" cy="814.7" r="6.0"/><circle cx="1100.4" cy="810.8" r="6.0"/><circle cx="1108.5" cy="805.8" r="6.0"/><circle cx="1116.5" cy="802.5" r="6.0"/><circle cx="1124.6" cy="797.2" r="6.0"/><circle cx="1132.7" cy="793.8" r="6.0"/><circle cx="1140.7" cy="788.3" r="6.0"/><circle cx="1148.8" cy="783.3" r="6.0"/><circle cx="1156.9" cy="776.3" r="6.0"/><circle cx="1165.0" cy="769.7" r="6.0"/><circle cx="1173.0" cy="760.8" r="6.0"/><circle cx="1181.1" cy="753.8" r="6.0"/><circle cx="1189.2" cy="747.5" r="6.0"/><circle cx="1197.2" cy="738.3" r="6.0"/><circle cx="1205.3" cy="730.0" r="6.0"/><circle cx="1213.4" cy="721.2" r="6.0"/><circle cx="1221.5" cy="712.5" r="6.0"/><circle cx="1229.5" cy="703.0" r="6.0"/><circle cx="1237.6" cy="691.8" r="6.0"/><circle cx="1245.7" cy="682.8" r="6.0"/><circle cx="1253.7" cy="675.8" r="6.0"/><circle cx="1261.8" cy="665.8" r="6.0"/><circle cx="1269.9" cy="658.8" r="6.0"/><circle cx="1278.0" cy="648.3" r="6.0"/><circle cx="1286.0" cy="639.7" r="6.0"/><circle cx="1294.1" cy="634.7" r="6.0"/><circle cx="1302.2" cy="625.8" r="6.0"/><circle cx="1310.2" cy="620.8" r="6.0"/><circle cx="1318.3" cy="615.8" r="6.0"/><circle cx="1326.4" cy="608.8" r="6.0"/><circle cx="1334.5" cy="605.3" r="6.0"/><circle cx="1342.5" cy="603.3" r="6.0"/><circle cx="1350.6" cy="603.3" r="6.0"/><circle cx="1358.7" cy="605.0" r="6.0"/><circle cx="1366.7" cy="605.0" r="6.0"/><circle cx="1374.8" cy="606.7" r="6.0"/><circle cx="1382.9" cy="610.5" r="6.0"/><circle cx="1391.0" cy="610.5" r="6.0"/><circle cx="1399.0" cy="608.8" r="6.0"/><circle cx="1407.1" cy="606.8" r="6.0"/><circle cx="1415.2" cy="607.0" r="6.0"/><circle cx="1423.2" cy="601.8" r="6.0"/><circle cx="1431.3" cy="598.5" r="6.0"/><circle cx="1439.4" cy="594.8" r="6.0"/><circle cx="1447.5" cy="588.0" r="6.0"/><circle cx="1455.5" cy="583.0" r="6.0"/><circle cx="1463.6" cy="583.3" r="6.0"/><circle cx="1471.7" cy="575.5" r="6.0"/><circle cx="1479.7" cy="572.5" r="6.0"/><circle cx="1487.8" cy="567.5" r="6.0"/><circle cx="1495.9" cy="563.7" r="6.0"/><circle cx="1504.0" cy="558.7" r="6.0"/><circle cx="1512.0" cy="553.7" r="6.0"/><circle cx="1520.1" cy="542.8" r="6.0"/><circle cx="1528.2" cy="540.0" r="6.0"/><circle cx="1536.2" cy="529.2" r="6.0"/><circle cx="1544.3" cy="525.8" r="6.0"/><circle cx="1552.4" cy="516.7" r="6.0"/><circle cx="1560.5" cy="513.7" r="6.0"/><circle cx="1568.5" cy="503.0" r="6.0"/><circle cx="1576.6" cy="503.8" r="6.0"/><circle cx="1584.7" cy="491.2" r="6.0"/><circle cx="1592.7" cy="489.7" r="6.0"/><circle cx="1600.8" cy="479.2" r="6.0"/>
</g>
<g fill="#F9932C">
<circle cx="1027.7" cy="404.2" r="6.0"/><circle cx="1035.8" cy="415.0" r="6.0"/><circle cx="1043.9" cy="408.3" r="6.0"/><circle cx="1052.0" cy="398.0" r="6.0"/><circle cx="1060.0" cy="377.0" r="6.0"/><circle cx="1068.1" cy="371.4" r="6.0"/><circle cx="1076.2" cy="380.3" r="6.0"/><circle cx="1084.2" cy="377.3" r="6.0"/><circle cx="1092.3" cy="356.0" r="6.0"/><circle cx="1100.4" cy="347.4" r="6.0"/><circle cx="1108.5" cy="347.8" r="6.0"/><circle cx="1116.5" cy="336.9" r="6.0"/><circle cx="1124.6" cy="347.7" r="6.0"/><circle cx="1132.7" cy="346.0" r="6.0"/><circle cx="1140.7" cy="327.8" r="6.0"/><circle cx="1148.8" cy="332.5" r="6.0"/><circle cx="1156.9" cy="318.2" r="6.0"/><circle cx="1165.0" cy="318.0" r="6.0"/><circle cx="1173.0" cy="321.8" r="6.0"/><circle cx="1181.1" cy="321.8" r="6.0"/><circle cx="1189.2" cy="307.7" r="6.0"/><circle cx="1197.2" cy="303.5" r="6.0"/><circle cx="1205.3" cy="298.7" r="6.0"/><circle cx="1213.4" cy="301.3" r="6.0"/><circle cx="1221.5" cy="288.8" r="6.0"/><circle cx="1229.5" cy="288.3" r="6.0"/><circle cx="1237.6" cy="283.3" r="6.0"/><circle cx="1245.7" cy="275.8" r="6.0"/><circle cx="1253.7" cy="268.3" r="6.0"/><circle cx="1261.8" cy="264.2" r="6.0"/><circle cx="1269.9" cy="261.7" r="6.0"/><circle cx="1278.0" cy="259.0" r="6.0"/><circle cx="1286.0" cy="250.0" r="6.0"/><circle cx="1294.1" cy="255.4" r="6.0"/><circle cx="1302.2" cy="247.6" r="6.0"/><circle cx="1310.2" cy="241.5" r="6.0"/><circle cx="1318.3" cy="235.6" r="6.0"/><circle cx="1326.4" cy="226.9" r="6.0"/><circle cx="1334.5" cy="225.0" r="6.0"/><circle cx="1342.5" cy="216.0" r="6.0"/><circle cx="1350.6" cy="215.0" r="6.0"/><circle cx="1358.7" cy="214.4" r="6.0"/><circle cx="1366.7" cy="208.1" r="6.0"/><circle cx="1374.8" cy="213.1" r="6.0"/><circle cx="1382.9" cy="202.1" r="6.0"/><circle cx="1391.0" cy="199.4" r="6.0"/><circle cx="1399.0" cy="186.9" r="6.0"/><circle cx="1407.1" cy="192.5" r="6.0"/><circle cx="1415.2" cy="190.0" r="6.0"/><circle cx="1423.2" cy="185.1" r="6.0"/><circle cx="1431.3" cy="173.1" r="6.0"/><circle cx="1439.4" cy="164.4" r="6.0"/><circle cx="1447.5" cy="163.1" r="6.0"/><circle cx="1455.5" cy="164.7" r="6.0"/><circle cx="1463.6" cy="157.5" r="6.0"/><circle cx="1471.7" cy="150.6" r="6.0"/><circle cx="1479.7" cy="141.2" r="6.0"/><circle cx="1487.8" cy="139.5" r="6.0"/><circle cx="1495.9" cy="139.0" r="6.0"/><circle cx="1504.0" cy="138.8" r="6.0"/><circle cx="1512.0" cy="135.0" r="6.0"/><circle cx="1520.1" cy="131.2" r="6.0"/><circle cx="1528.2" cy="126.2" r="6.0"/><circle cx="1536.2" cy="119.4" r="6.0"/><circle cx="1544.3" cy="116.0" r="6.0"/><circle cx="1552.4" cy="120.0" r="6.0"/><circle cx="1560.5" cy="110.6" r="6.0"/><circle cx="1568.5" cy="114.4" r="6.0"/><circle cx="1576.6" cy="103.8" r="6.0"/><circle cx="1584.7" cy="98.5" r="6.0"/><circle cx="1592.7" cy="109.1" r="6.0"/><circle cx="1600.8" cy="121.2" r="6.0"/>
</g>
<g class="ax" text-anchor="end">
<text x="104" y="861.4">40 years</text>
<text x="104" y="688.5">50 years</text>
<text x="104" y="515.6">60 years</text>
<text x="104" y="342.7">70 years</text>
<text x="104" y="169.8">80 years</text>
</g><g class="ax" text-anchor="middle">
<text x="220.6" y="904.6">1850</text>
<text x="624.2" y="904.6">1900</text>
<text x="1027.7" y="904.6">1950</text>
<text x="1431.3" y="904.6">2000</text>
</g>
<text class="ti" x="115.8" y="40.4">Life Expectancy, 1876 to 2021</text>
<text class="ca" x="1672.6" y="940.5" text-anchor="end">Source Our World in Data (https://ourworldindata.org/life-expectancy)</text>
<line x1="1720" x2="1756.9" y1="360.1" y2="360.1" stroke="#0B0073" stroke-width="2.6"/>
<circle cx="1738.4" cy="360.1" r="6.0" fill="#0B0073"/>
<text class="lg" x="1775.5" y="368.7">Isle of Man</text>
<line x1="1720" x2="1756.9" y1="406.2" y2="406.2" stroke="#480096" stroke-width="2.6"/>
<circle cx="1738.4" cy="406.2" r="6.0" fill="#480096"/>
<text class="lg" x="1775.5" y="414.8">Norway</text>
<line x1="1720" x2="1756.9" y1="452.3" y2="452.3" stroke="#80008E" stroke-width="2.6"/>
<circle cx="1738.4" cy="452.3" r="6.0" fill="#80008E"/>
<text class="lg" x="1775.5" y="460.9">Samoa</text>
<line x1="1720" x2="1756.9" y1="498.4" y2="498.4" stroke="#B52A68" stroke-width="2.6"/>
<circle cx="1738.4" cy="498.4" r="6.0" fill="#B52A68"/>
<text class="lg" x="1775.5" y="507.0">Serbia</text>
<line x1="1720" x2="1756.9" y1="544.4" y2="544.4" stroke="#DF5847" stroke-width="2.6"/>
<circle cx="1738.4" cy="544.4" r="6.0" fill="#DF5847"/>
<text class="lg" x="1775.5" y="553.0">Togo</text>
<line x1="1720" x2="1756.9" y1="590.5" y2="590.5" stroke="#F9932C" stroke-width="2.6"/>
<circle cx="1738.4" cy="590.5" r="6.0" fill="#F9932C"/>
<text class="lg" x="1775.5" y="599.1">Vatican</text>
</svg></body></html>
